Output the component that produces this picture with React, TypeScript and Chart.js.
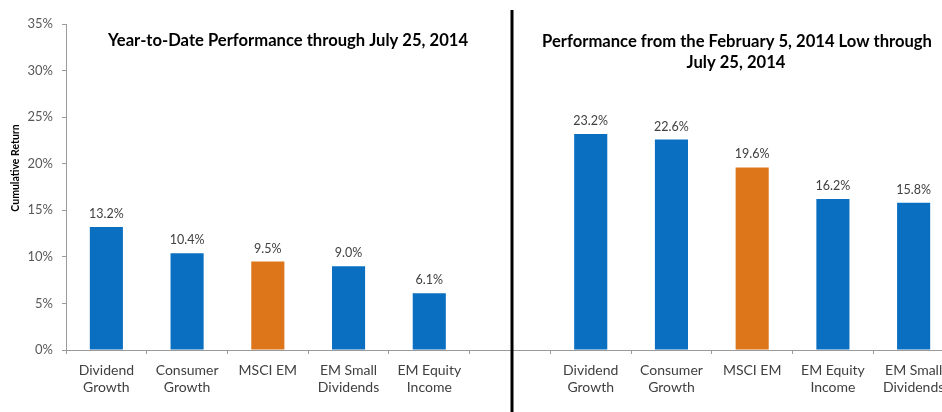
import React, { useEffect, useRef } from "react";
import { Chart, registerables } from "chart.js";

Chart.register(...registerables);

const BLUE = "#0A6FC0";
const ORANGE = "#DD761A";

const leftCategories: string[][] = [
  ["Dividend", "Growth"],
  ["Consumer", "Growth"],
  ["MSCI EM"],
  ["EM Small", "Dividends"],
  ["EM Equity", "Income"],
];
const leftValues: number[] = [13.2, 10.4, 9.5, 9.0, 6.1];
const leftColors: string[] = [BLUE, BLUE, ORANGE, BLUE, BLUE];

const rightCategories: string[][] = [
  ["Dividend", "Growth"],
  ["Consumer", "Growth"],
  ["MSCI EM"],
  ["EM Equity", "Income"],
  ["EM Small", "Dividends"],
];
const rightValues: number[] = [23.2, 22.6, 19.6, 16.2, 15.8];
const rightColors: string[] = [BLUE, BLUE, ORANGE, BLUE, BLUE];

const yMin = 0;
const yMax = 35;
const yStep = 5;

const leftTitle = "Year-to-Date Performance through July 25, 2014";
const rightTitle = ["Performance from the February 5, 2014 Low through", "July 25, 2014"];
const yAxisTitle = "Cumulative Return";

const FONT = "Lato, 'Open Sans', sans-serif";

const labels: (string | string[])[] = [...leftCategories, "", ...rightCategories];
const values: (number | null)[] = [...leftValues, null, ...rightValues];
const colors: string[] = [...leftColors, "rgba(0,0,0,0)", ...rightColors];
const dividerIndex = leftCategories.length;

const overlayPlugin = {
  id: "overlay",
  afterDatasetsDraw(chart: any) {
    const ctx = chart.ctx as CanvasRenderingContext2D;
    const meta = chart.getDatasetMeta(0);
    ctx.save();
    // value labels
    ctx.font = `12.5px ${FONT}`;
    ctx.fillStyle = "#404040";
    ctx.textAlign = "center";
    ctx.textBaseline = "middle";
    meta.data.forEach((bar: any, i: number) => {
      const v = values[i];
      if (v == null) return;
      ctx.fillText(v.toFixed(1) + "%", bar.x, bar.y - 13);
    });
    // divider
    const xScale = chart.scales.x;
    const dx = xScale.getPixelForValue(dividerIndex) + 2;
    ctx.strokeStyle = "#000";
    ctx.lineWidth = 3;
    ctx.beginPath();
    ctx.moveTo(dx, 10);
    ctx.lineTo(dx, chart.height);
    ctx.stroke();
    // titles
    ctx.font = `bold 16.6px ${FONT}`;
    ctx.fillStyle = "#000";
    ctx.textBaseline = "alphabetic";
    ctx.fillText(leftTitle, 288, 46);
    ctx.fillText(rightTitle[0], 737, 47);
    ctx.fillText(rightTitle[1], 736, 68);
    // y axis title
    ctx.translate(16, 168);
    ctx.rotate(-Math.PI / 2);
    ctx.font = `bold 10.5px ${FONT}`;
    ctx.textBaseline = "middle";
    ctx.fillText(yAxisTitle, 0, 0);
    ctx.restore();
  },
};

export default function App() {
  const ref = useRef<HTMLCanvasElement>(null);
  useEffect(() => {
    if (!ref.current) return;
    const chart = new Chart(ref.current, {
      type: "bar",
      data: {
        labels,
        datasets: [
          {
            data: values as any,
            backgroundColor: colors,
            borderWidth: 0,
            categoryPercentage: 1,
            barPercentage: 0.41,
          },
        ],
      },
      options: {
        responsive: false,
        animation: false,
        devicePixelRatio: 1,
        layout: { padding: { top: 24, right: 6, left: 0, bottom: 0 } },
        plugins: {
          legend: { display: false },
          tooltip: { enabled: false },
          title: { display: false },
        },
        scales: {
          x: {
            afterFit: (s: any) => {
              s.height = 62;
            },
            grid: {
              display: true,
              drawOnChartArea: false,
              drawTicks: true,
              tickLength: 4,
              color: "#9a9a9a",
              offset: true,
            },
            border: { display: true, color: "#9a9a9a", width: 1 },
            ticks: {
              font: { family: FONT, size: 14, lineHeight: 1.22 },
              color: "#404040",
              padding: 8,
              maxRotation: 0,
              autoSkip: false,
            },
          },
          y: {
            min: yMin,
            max: yMax,
            afterFit: (s: any) => {
              s.width = 66;
            },
            grid: {
              display: true,
              drawOnChartArea: false,
              drawTicks: true,
              tickLength: 4,
              color: "#9a9a9a",
            },
            border: { display: true, color: "#9a9a9a", width: 1 },
            ticks: {
              stepSize: yStep,
              font: { family: FONT, size: 13 },
              color: "#595959",
              padding: 9,
              callback: (v: any) => v + "%",
            },
            title: { display: false },
          },
        },
      },
      plugins: [overlayPlugin],
    });
    return () => chart.destroy();
  }, []);
  return (
    <div
      style={{
        position: "fixed",
        left: 0,
        top: 0,
        width: 942,
        height: 412,
        overflow: "hidden",
        background: "#fff",
      }}
    >
      <canvas ref={ref} width={960} height={412} style={{ display: "block" }} />
    </div>
  );
}
